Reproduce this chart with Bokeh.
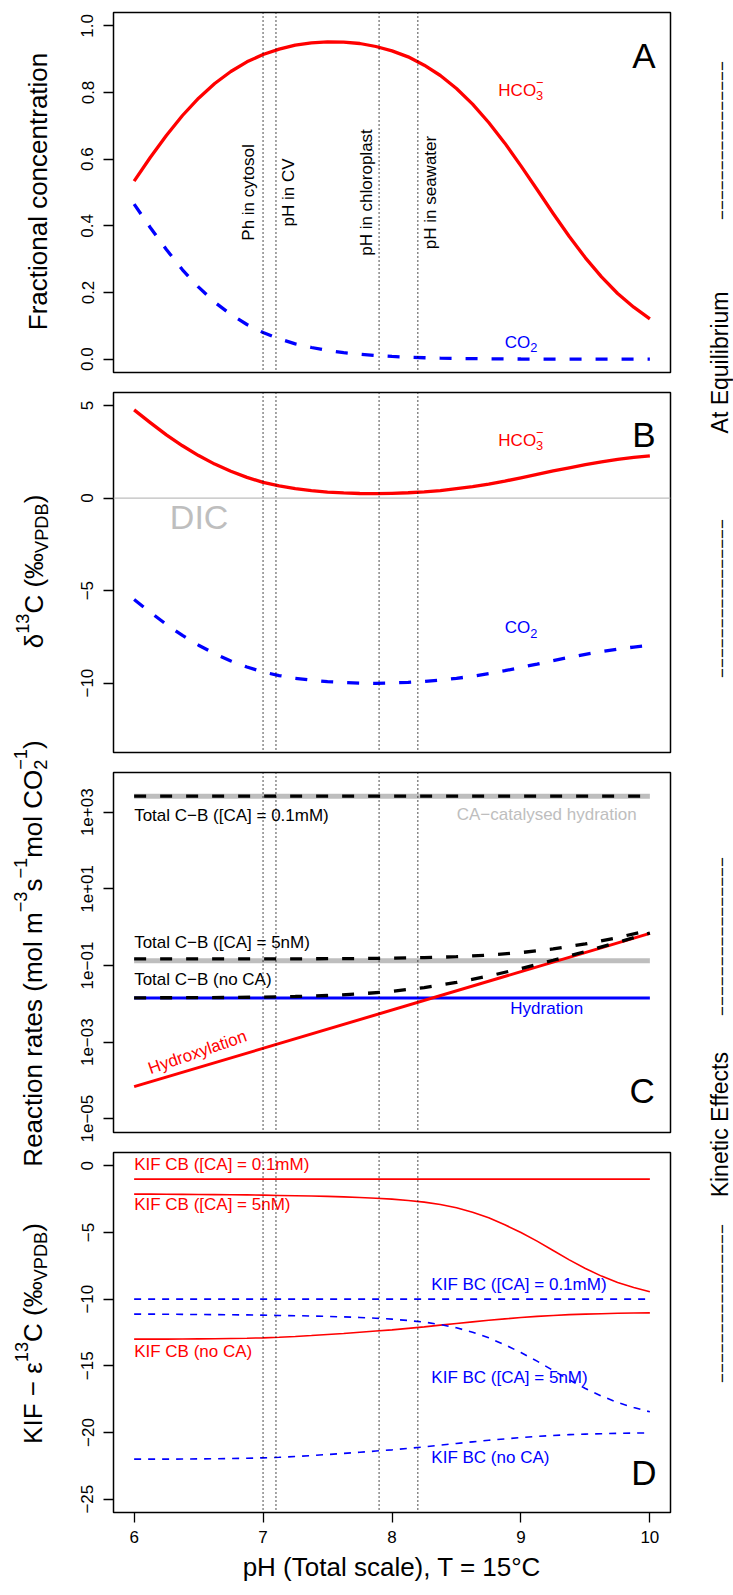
import math
from bokeh.plotting import figure
from bokeh.layouts import row, column
from bokeh.models import Range1d, FixedTicker, CustomJSTickFormatter, Span
from bokeh.core.properties import value
from bokeh.embed import file_html
from bokeh.resources import INLINE

FONT = "Liberation Sans"
RED, BLUE, GRAY, BLACK = "#FF0000", "#0000FF", "#BEBEBE", "#000000"

# ---------------- data ----------------
ph = [6.0, 6.125, 6.25, 6.375, 6.5, 6.625, 6.75, 6.875, 7.0, 7.125, 7.25, 7.375, 7.5,
      7.625, 7.75, 7.875, 8.0, 8.125, 8.25, 8.375, 8.5, 8.625, 8.75, 8.875, 9.0,
      9.125, 9.25, 9.375, 9.5, 9.625, 9.75, 9.875, 10.0]
ph_c = [6.0, 6.25, 6.5, 6.75, 7.0, 7.25, 7.5, 7.75, 8.0, 8.25, 8.5, 8.75, 9.0, 9.25, 9.5, 9.75, 10.0]
ph_ends = [6.0, 10.0]

# Panel A: fractional concentration
frac_hco3 = [0.534, 0.605, 0.671, 0.731, 0.783, 0.827, 0.863, 0.892, 0.914, 0.930, 0.942,
             0.949, 0.952, 0.951, 0.947, 0.938, 0.925, 0.907, 0.882, 0.851, 0.812, 0.765,
             0.710, 0.648, 0.580, 0.509, 0.437, 0.368, 0.304, 0.247, 0.197, 0.156, 0.121]
frac_co2 = [0.465, 0.395, 0.329, 0.268, 0.216, 0.171, 0.134, 0.104, 0.080, 0.061, 0.046,
            0.035, 0.026, 0.0197, 0.0147, 0.0109, 0.0081, 0.0059, 0.0043, 0.0031, 0.0022,
            0.0016, 0.0011, 0.0008, 0.0005, 0.0003, 0.0002, 0.0001, 0.0001, 0.0001,
            0.0, 0.0, 0.0]

# Panel B: d13C (permil VPDB)
d13c_hco3 = [4.77, 4.08, 3.42, 2.83, 2.30, 1.84, 1.45, 1.12, 0.85, 0.66, 0.51, 0.41, 0.33,
             0.28, 0.25, 0.24, 0.26, 0.29, 0.34, 0.41, 0.51, 0.62, 0.76, 0.92, 1.10, 1.28,
             1.47, 1.64, 1.81, 1.96, 2.09, 2.20, 2.29]
d13c_co2 = [-5.48, -6.17, -6.83, -7.42, -7.95, -8.41, -8.80, -9.13, -9.40, -9.59, -9.74,
            -9.84, -9.92, -9.97, -10.00, -10.01, -9.99, -9.96, -9.91, -9.84, -9.74, -9.63,
            -9.49, -9.33, -9.15, -8.97, -8.78, -8.61, -8.44, -8.29, -8.16, -8.05, -7.96]

# Panel C: reaction rates (mol m-3 s-1 mol CO2-1)
hydroxylation = [6.9e-5, 0.69]
hydration = [0.0143, 0.0143]
ca_hydration_01mM = [2620.0, 2620.0]
ca_hydration_5nM = [0.134, 0.134]
total_cb_01mM = [2620.0, 2620.7]
total_cb_5nM = [0.1484, 0.1484, 0.1485, 0.1487, 0.1490, 0.1495, 0.1505, 0.1522, 0.1552,
                0.1606, 0.1701, 0.1871, 0.2173, 0.271, 0.366, 0.536, 0.838]
total_cb_noCA = [0.01437, 0.01442, 0.01452, 0.01469, 0.0150, 0.01553, 0.01648, 0.01818,
                 0.0212, 0.0266, 0.0361, 0.0531, 0.0833, 0.137, 0.232, 0.402, 0.704]

# Panel D: KIF - epsilon13C
kif_cb_01mM = [-1.0, -1.0]
kif_bc_01mM = [-10.0, -10.0]
kif_cb_5nM = [-2.12, -2.12, -2.13, -2.14, -2.15, -2.16, -2.17, -2.18, -2.20, -2.22, -2.24,
              -2.26, -2.29, -2.33, -2.37, -2.43, -2.50, -2.60, -2.72, -2.90, -3.15, -3.48,
              -3.90, -4.42, -5.00, -5.65, -6.35, -7.05, -7.70, -8.27, -8.75, -9.13, -9.45]
kif_cb_noCA = [-13.0, -13.0, -13.0, -12.99, -12.98, -12.97, -12.95, -12.93, -12.9, -12.86,
               -12.8, -12.73, -12.65, -12.57, -12.48, -12.39, -12.3, -12.19, -12.08, -11.95,
               -11.82, -11.7, -11.58, -11.48, -11.38, -11.29, -11.22, -11.16, -11.12, -11.09,
               -11.06, -11.04, -11.03]
kif_bc_5nM = [-11.12, -11.12, -11.13, -11.14, -11.15, -11.16, -11.17, -11.18, -11.20, -11.22,
              -11.24, -11.26, -11.29, -11.33, -11.37, -11.43, -11.50, -11.60, -11.72, -11.90,
              -12.15, -12.48, -12.90, -13.42, -14.00, -14.65, -15.35, -16.05, -16.70, -17.27,
              -17.75, -18.13, -18.45]
kif_bc_noCA = [-22.0, -22.0, -22.0, -21.99, -21.98, -21.97, -21.95, -21.93, -21.9, -21.86,
               -21.8, -21.73, -21.65, -21.57, -21.48, -21.39, -21.3, -21.19, -21.08, -20.95,
               -20.82, -20.7, -20.58, -20.48, -20.38, -20.29, -20.22, -20.16, -20.12, -20.09,
               -20.06, -20.04, -20.03]

ph_marks = [7.0, 7.1, 7.9, 8.2]
ph_mark_labels = ["Ph in cytosol", "pH in CV", "pH in chloroplast", "pH in seawater"]

x_ticks = [6, 7, 8, 9, 10]
a_ticks = [0.0, 0.2, 0.4, 0.6, 0.8, 1.0]
b_ticks = [-10, -5, 0, 5]
c_ticks = [1e-5, 1e-3, 1e-1, 1e1, 1e3]
d_ticks = [-25, -20, -15, -10, -5, 0]

# ---------------- helpers ----------------
AW = {' ': 278, '%': 889, '(': 333, ')': 333, '+': 584, ',': 278, '-': 333, '.': 278,
      '=': 584, 'A': 667, 'B': 667, 'C': 722, 'D': 722, 'E': 667, 'F': 611, 'H': 722,
      'I': 278, 'K': 667, 'M': 833, 'O': 778, 'P': 667, 'R': 722, 'T': 611, 'V': 667,
      '[': 278, ']': 278, 'a': 556, 'b': 556, 'c': 500, 'd': 556, 'e': 556, 'f': 278,
      'h': 556, 'i': 222, 'l': 222, 'm': 833, 'n': 556, 'o': 556, 'p': 556, 'q': 556,
      'r': 333, 's': 500, 't': 278, 'u': 556, 'y': 500, '\u2212': 584, '\u03b4': 556,
      '\u03b5': 445, '\u2030': 1000}


def tw(s, size):
    return sum(AW.get(ch, 556) for ch in s) * size / 1000.0


def txt(p, x, y, s, size, color=BLACK, align="left", angle=0.0, xo=0.0, yo=0.0):
    p.text(x=[x], y=[y], text=[s], text_font=value(FONT),
           text_font_size=value("%.1fpx" % size), text_color=color,
           text_align=align, text_baseline="alphabetic", angle=angle,
           x_offset=xo, y_offset=yo)


def chem(p, x, y, parts, size, color):
    """horizontal formula centred on (x, y); offsets are in screen pixels"""
    small = size * 0.75
    widths = []
    for s, kind in parts:
        if kind == "n":
            widths.append(tw(s, size))
        elif kind == "sub":
            widths.append(tw(s, small))
        else:
            widths.append(max(tw(s[0], small), tw(s[1], small)))
    cur = -sum(widths) / 2.0
    for (s, kind), w in zip(parts, widths):
        if kind == "n":
            txt(p, x, y, s, size, color, xo=cur)
        elif kind == "sub":
            txt(p, x, y, s, small, color, xo=cur, yo=size * 0.32)
        else:
            txt(p, x, y, s[0], small, color, xo=cur, yo=size * 0.32)
            txt(p, x, y, s[1], small, color, xo=cur, yo=-size * 0.45)
        cur += w


def rot_label(p, xm, yc, parts, size, color=BLACK):
    """text rotated 90 deg (reads upward) in a pixel-space figure, centred on yc"""
    small = size * 0.7
    widths = []
    for s, kind in parts:
        if kind == "n":
            widths.append(tw(s, size))
        elif kind in ("sub", "sup"):
            widths.append(tw(s, small))
        else:
            widths.append(max(tw(s[0], small), tw(s[1], small)))
    y = yc + sum(widths) / 2.0
    for (s, kind), w in zip(parts, widths):
        if kind == "n":
            txt(p, xm, y, s, size, color, angle=math.pi / 2)
        elif kind == "sup":
            txt(p, xm - size * 0.46, y, s, small, color, angle=math.pi / 2)
        elif kind == "sub":
            txt(p, xm + size * 0.3, y, s, small, color, angle=math.pi / 2)
        else:
            txt(p, xm + size * 0.3, y, s[0], small, color, angle=math.pi / 2)
            txt(p, xm - size * 0.46, y, s[1], small, color, angle=math.pi / 2)
        y -= w


NEG_CODE = "return (tick < 0 ? '\u2212' : '') + Math.abs(tick);"
LOG_CODE = ("var e = Math.round(Math.log(tick) / Math.LN10);"
            "var s = (Math.abs(e) < 10 ? '0' : '') + Math.abs(e);"
            "return '1e' + (e < 0 ? '\u2212' : '+') + s;")


def style_axis(ax, ticks, code, orient=None):
    ax.ticker = FixedTicker(ticks=ticks)
    ax.formatter = CustomJSTickFormatter(code=code)
    ax.axis_line_color = None
    ax.major_tick_line_color = BLACK
    ax.major_tick_line_width = 1.3
    ax.major_tick_out = 10
    ax.major_tick_in = 0
    ax.minor_tick_line_color = None
    ax.major_label_text_font = FONT
    ax.major_label_text_font_size = "17px"
    ax.major_label_text_color = BLACK
    ax.major_label_standoff = 10
    if orient is not None:
        ax.major_label_orientation = orient


MAIN_W = 613


def panel(y_range, height, top, bottom, ticks, code, y_type="linear", with_x=False):
    p = figure(width=MAIN_W, height=height, x_range=Range1d(5.84, 10.16),
               y_range=y_range, y_axis_type=y_type,
               x_axis_location="below" if with_x else None,
               output_backend="svg", toolbar_location=None,
               min_border_left=53, min_border_right=3,
               min_border_top=top, min_border_bottom=bottom)
    p.xgrid.visible = False
    p.ygrid.visible = False
    p.outline_line_color = BLACK
    p.outline_line_width = 1.5
    p.background_fill_color = "white"
    p.border_fill_color = "white"
    style_axis(p.yaxis[0], ticks, code, orient="vertical")
    for v in ph_marks:
        p.add_layout(Span(location=v, dimension="height", line_color=BLACK,
                          line_width=1.4, line_dash="1 3"))
    return p


# ---------------- Panel A ----------------
pA = panel(Range1d(-0.04, 1.04), 382, 12, 10, a_ticks, "return tick.toFixed(1);")
pA.line(ph, frac_hco3, line_color=RED, line_width=3.3, line_join="round")
pA.line(ph, frac_co2, line_color=BLUE, line_width=3.3, line_dash="12 14")
for xv, lab in zip([6.889, 7.194, 7.802, 8.300], ph_mark_labels):
    txt(pA, xv, 0.5, lab, 17, align="center", angle=math.pi / 2)
chem(pA, 9.0, 0.807, [("HCO", "n"), (("3", "\u2212"), "subsup")], 17, RED)
chem(pA, 9.0, 0.051, [("CO", "n"), ("2", "sub")], 17, BLUE)
txt(pA, 9.953, 0.912, "A", 35, align="center")

# ---------------- Panel B ----------------
pB = panel(Range1d(-13.75, 5.71), 380, 10, 10, b_ticks, NEG_CODE)
pB.add_layout(Span(location=0, dimension="width", line_color=GRAY, line_width=1.3))
pB.line(ph, d13c_hco3, line_color=RED, line_width=3.3, line_join="round")
pB.line(ph, d13c_co2, line_color=BLUE, line_width=3.3, line_dash="12 14")
txt(pB, 6.504, -1.03, "DIC", 34, GRAY, align="center")
chem(pB, 9.0, 3.12, [("HCO", "n"), (("3", "\u2212"), "subsup")], 17, RED)
chem(pB, 9.0, -7.0, [("CO", "n"), ("2", "sub")], 17, BLUE)
txt(pB, 9.953, 3.43, "B", 35, align="center")

# ---------------- Panel C ----------------
pC = panel(Range1d(10 ** -5.357, 10 ** 4.036), 380, 10, 10, c_ticks, LOG_CODE, y_type="log")
pC.line(ph_ends, ca_hydration_01mM, line_color=GRAY, line_width=5)
pC.line(ph_ends, ca_hydration_5nM, line_color=GRAY, line_width=5)
pC.line(ph_ends, hydration, line_color=BLUE, line_width=3)
pC.line(ph_ends, hydroxylation, line_color=RED, line_width=3)
pC.line(ph_ends, total_cb_01mM, line_color=BLACK, line_width=3.3, line_dash="12 14")
pC.line(ph_c, total_cb_5nM, line_color=BLACK, line_width=3.3, line_dash="12 14")
pC.line(ph_c, total_cb_noCA, line_color=BLACK, line_width=3.3, line_dash="12 14")
txt(pC, 6.0, 821.0, "Total C\u2212B  ([CA] = 0.1mM)", 17)
txt(pC, 9.2, 871.0, "CA\u2212catalysed hydration", 17, GRAY, align="center")
txt(pC, 6.0, 0.4036, "Total C\u2212B  ([CA] = 5nM)", 17)
txt(pC, 6.0, 0.0421, "Total C\u2212B  (no CA)", 17)
txt(pC, 9.2, 0.00736, "Hydration", 17, BLUE, align="center")
txt(pC, 6.491, 5.42e-4, "Hydroxylation", 17, RED, align="center", angle=math.radians(19))
txt(pC, 9.94, 5.42e-5, "C", 35, align="center")

# ---------------- Panel D ----------------
pD = panel(Range1d(-26, 1), 453, 10, 83, d_ticks, NEG_CODE, with_x=True)
pD.line(ph_ends, kif_cb_01mM, line_color=RED, line_width=1.6)
pD.line(ph, kif_cb_5nM, line_color=RED, line_width=1.6)
pD.line(ph, kif_cb_noCA, line_color=RED, line_width=1.6)
pD.line(ph_ends, kif_bc_01mM, line_color=BLUE, line_width=1.6, line_dash="7 7")
pD.line(ph, kif_bc_5nM, line_color=BLUE, line_width=1.6, line_dash="7 7")
pD.line(ph, kif_bc_noCA, line_color=BLUE, line_width=1.6, line_dash="7 7")
txt(pD, 6.0, 0.075, "KIF CB ([CA] = 0.1mM)", 17, RED)
txt(pD, 6.0, -2.91, "KIF CB ([CA] = 5nM)", 17, RED)
txt(pD, 6.0, -13.93, "KIF CB (no CA)", 17, RED)
txt(pD, 8.305, -8.92, "KIF BC ([CA] = 0.1mM)", 17, BLUE)
txt(pD, 8.305, -15.9, "KIF BC ([CA] = 5nM)", 17, BLUE)
txt(pD, 8.305, -21.9, "KIF BC (no CA)", 17, BLUE)
txt(pD, 9.953, -22.97, "D", 35, align="center")
xa = pD.xaxis[0]
style_axis(xa, x_ticks, "return tick.toString();")
xa.major_label_standoff = 8
xa.axis_label = "pH (Total scale), T = 15\u00b0C"
xa.axis_label_text_font = FONT
xa.axis_label_text_font_size = "26px"
xa.axis_label_text_font_style = "normal"
xa.axis_label_text_color = BLACK
xa.axis_label_standoff = 6

# ---------------- left margin: y-axis titles ----------------
left = figure(width=60, height=1595, x_range=Range1d(0, 60), y_range=Range1d(1595, 0),
              x_axis_location=None, y_axis_location=None, min_border=0,
              output_backend="svg", toolbar_location=None, outline_line_color=None)
left.xgrid.visible = False
left.ygrid.visible = False
rot_label(left, 37.5, 191, [("Fractional concentration", "n")], 26)
rot_label(left, 33.5, 571, [("\u03b4", "n"), ("13", "sup"), ("C (", "n"),
                            ("\u2030", "n"), ("VPDB", "sub"), (")", "n")], 26)
rot_label(left, 32.0, 953, [("Reaction rates (mol m", "n"), ("\u22123", "sup"), ("s", "n"),
                            ("\u22121", "sup"), ("mol CO", "n"), (("2", "\u22121"), "subsup"),
                            (")", "n")], 26)
rot_label(left, 32.5, 1333, [("KIF \u2212 \u03b5", "n"), ("13", "sup"), ("C (", "n"),
                             ("\u2030", "n"), ("VPDB", "sub"), (")", "n")], 26)

# ---------------- right margin: section labels ----------------
right = figure(width=60, height=1595, x_range=Range1d(673, 733), y_range=Range1d(1595, 0),
               x_axis_location=None, y_axis_location=None, min_border=0,
               output_backend="svg", toolbar_location=None, outline_line_color=None)
right.xgrid.visible = False
right.ygrid.visible = False
DASHES = "\u2212" * 16
for yc in [140, 598, 936, 1303]:
    rot_label(right, 721.5, yc, [(DASHES, "n")], 17)
rot_label(right, 719, 362, [("At Equilibrium", "n")], 23)
rot_label(right, 719, 1124, [("Kinetic Effects", "n")], 23)

layout = row(left, column(pA, pB, pC, pD), right)
with open("out.html", "w", encoding="utf-8") as f:
    f.write(file_html(layout, INLINE, title="Carbonate system"))
